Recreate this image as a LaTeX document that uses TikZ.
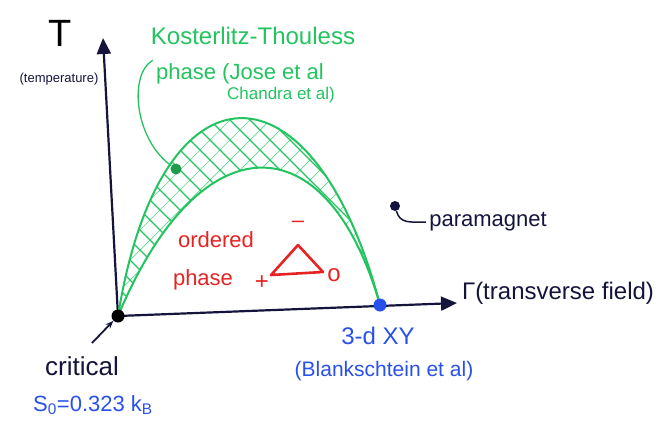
\documentclass[tikz,border=0pt]{standalone}
\usepackage{fontspec}
\setmainfont{Liberation Sans}
\usetikzlibrary{arrows.meta}
\definecolor{axisnavy}{RGB}{20,20,60}
\definecolor{ktgreen}{RGB}{35,195,95}
\definecolor{ordred}{RGB}{230,35,35}
\definecolor{xyblue}{RGB}{40,80,235}
\tikzset{
  axisline/.style={draw=axisnavy,line width=2.2pt,-{Triangle[length=16pt,width=14pt]}},
  bigdot/.style={circle,inner sep=0pt,minimum size=#1},
  ktarc/.style={draw=ktgreen,line width=2pt},
  fs/.style={font=\fontsize{#1}{#1}\selectfont},
}
\begin{document}
\begin{tikzpicture}[x=1pt,y=-1pt]
\useasboundingbox (0,0) rectangle (662,426);
% axes:
\coordinate (origin) at (118,316);
\coordinate (ttop) at (103,38);
\coordinate (gend) at (457,303);
\coordinate (xyp) at (380,305);
\path[axisline] (origin) -- (ttop);
\path[axisline] (origin) -- (gend);
% hatched Kosterlitz-Thouless band:
\begin{scope}
\clip (origin) .. controls (160,54) and (314,54) .. (xyp)
  .. controls (327,120) and (200,120) .. (origin);
\foreach \k in {0,...,24} {
  \path[draw=ktgreen!70,line width=0.7pt] (20+20*\k,330) -- ++(220,-220);
  \path[draw=ktgreen,line width=1.2pt] (-100+20*\k,110) -- ++(220,220);
}
\end{scope}
\path[ktarc] (origin) .. controls (160,54) and (314,54) .. (xyp);
\path[ktarc] (origin) .. controls (200,120) and (327,120) .. (xyp);
% points:
\node[bigdot=13pt,fill=black] (crit) at (origin) {};
\node[bigdot=13pt,fill=xyblue] (xy) at (xyp) {};
\node[bigdot=11pt,fill=ktgreen!80!black] (ktdot) at (176,169) {};
\node[bigdot=10pt,fill=axisnavy] (pmdot) at (395,206) {};
% labels:
\node[black,fs=38] (tlab) at (60,33) {T};
\node[axisnavy,fs=13] (tsub) at (59,79) {(temperature)};
\node[axisnavy,fs=24] (gamlab) at (558,293) {Γ(transverse field)};
\node[ktgreen,fs=24] (kt1) at (253,36) {Kosterlitz-Thouless};
\node[ktgreen,fs=22] (kt2) at (240,74) {phase (Jose et al};
\node[ktgreen,fs=17] (kt3) at (281,95) {Chandra et al)};
\node[axisnavy,fs=22] (pm) at (488,222) {paramagnet};
\node[ordred,fs=22] (ord1) at (216,240) {ordered};
\node[ordred,fs=22] (ord2) at (203,280) {phase};
\node[xyblue,fs=24] (xylab) at (378,336) {3-d XY};
\node[xyblue,fs=21] (blk) at (384,371) {(Blankschtein et al)};
\node[axisnavy,fs=26] (critlab) at (82,366) {critical};
\node[xyblue,fs=22] (entlab) at (93,405) {S\textsubscript{0}=0.323 k\textsubscript{B}};
% order parameter triangle:
\coordinate (ta) at (298,245);
\coordinate (tb) at (271,275);
\coordinate (tc) at (323,272);
\path[draw=ordred,line width=2.6pt,line join=round] (ta) -- (tb) -- (tc) -- cycle;
\node[ordred,fs=22] (tminus) at (298,224) {–};
\node[ordred,fs=24] (tplus) at (262,283) {+};
\node[ordred,fs=24] (tnull) at (334,275) {o};
% connectors:
\path[draw=ktgreen,line width=1.3pt] (ktdot) .. controls (135,140) and (128,75) .. (kt2.north west);
\path[draw=axisnavy,line width=1.5pt] (pmdot) .. controls (400,224) and (410,222) .. (pm.west);
\coordinate (critarr) at (92,343);
\path[draw=axisnavy,line width=1.8pt,-{Stealth[length=8pt]}] (critarr) -- (crit);
\end{tikzpicture}
\end{document}
